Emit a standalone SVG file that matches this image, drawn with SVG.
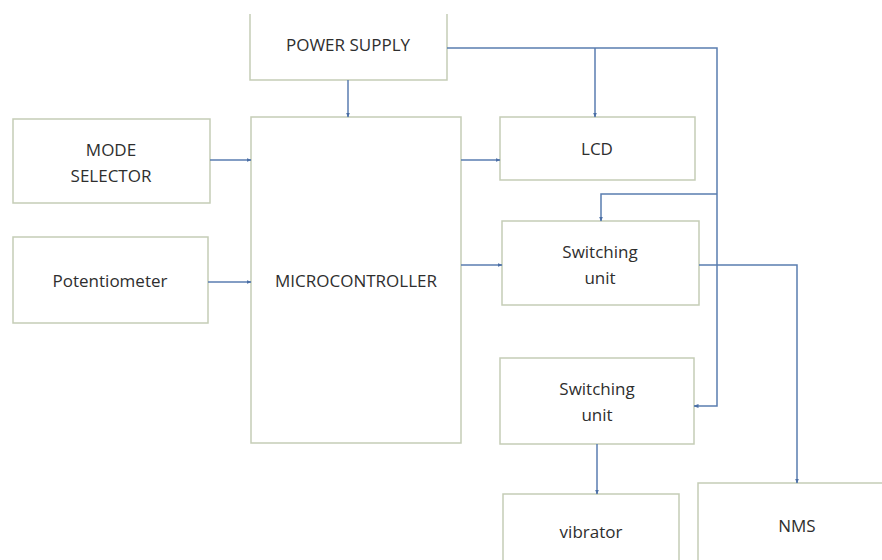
<svg xmlns="http://www.w3.org/2000/svg" width="882" height="560" viewBox="0 0 882 560">
<defs>
<style>
.box{fill:#fff;stroke:#c5cdb6;stroke-width:1.5}
.t{font-family:"Open Sans","Liberation Sans",sans-serif;font-size:17px;fill:#2e2e2e;text-anchor:middle}
.c{fill:none;stroke:#5a7db0;stroke-width:1.5}
</style>
<marker id="a" viewBox="0 0 10 10" refX="9" refY="5" markerWidth="5" markerHeight="5" orient="auto" markerUnits="userSpaceOnUse">
<path d="M0,1 L10,5 L0,9 z" fill="#4a6ea5"/>
</marker>
</defs>
<rect width="882" height="560" fill="#fff"/>
<g id="power-supply">
<path class="box" d="M250,14 V80 H447 V14"/>
<text class="t" x="348" y="51">POWER SUPPLY</text>
</g>
<g id="mode-selector">
<rect class="box" x="13" y="119" width="197" height="84"/>
<text class="t" x="111" y="156">MODE</text>
<text class="t" x="111" y="182">SELECTOR</text>
</g>
<g id="potentiometer">
<rect class="box" x="13" y="237" width="195" height="86"/>
<text class="t" x="110" y="287">Potentiometer</text>
</g>
<g id="microcontroller">
<rect class="box" x="251" y="117" width="210" height="326"/>
<text class="t" x="356" y="287">MICROCONTROLLER</text>
</g>
<g id="lcd">
<rect class="box" x="500" y="117" width="195" height="63"/>
<text class="t" x="597" y="155">LCD</text>
</g>
<g id="switching-unit-1">
<rect class="box" x="502" y="221" width="197" height="84"/>
<text class="t" x="600" y="258">Switching</text>
<text class="t" x="600" y="284">unit</text>
</g>
<g id="switching-unit-2">
<rect class="box" x="500" y="358" width="194" height="86"/>
<text class="t" x="597" y="395">Switching</text>
<text class="t" x="597" y="421">unit</text>
</g>
<g id="vibrator">
<path class="box" d="M503,562 V494 H679 V562"/>
<text class="t" x="591" y="538">vibrator</text>
</g>
<g id="nms">
<path class="box" d="M698,562 V483 H884"/>
<text class="t" x="797" y="532">NMS</text>
</g>
<g id="connectors">
<path class="c" d="M348,80 V117" marker-end="url(#a)"/>
<path class="c" d="M447,48 H717 V406 H694" marker-end="url(#a)"/>
<path class="c" d="M595,48 V117" marker-end="url(#a)"/>
<path class="c" d="M717,194 H601 V221" marker-end="url(#a)"/>
<path class="c" d="M210,160 H251" marker-end="url(#a)"/>
<path class="c" d="M208,282 H251" marker-end="url(#a)"/>
<path class="c" d="M461,160 H500" marker-end="url(#a)"/>
<path class="c" d="M461,265 H502" marker-end="url(#a)"/>
<path class="c" d="M699,265 H797 V483" marker-end="url(#a)"/>
<path class="c" d="M597,444 V494" marker-end="url(#a)"/>
</g>
</svg>
